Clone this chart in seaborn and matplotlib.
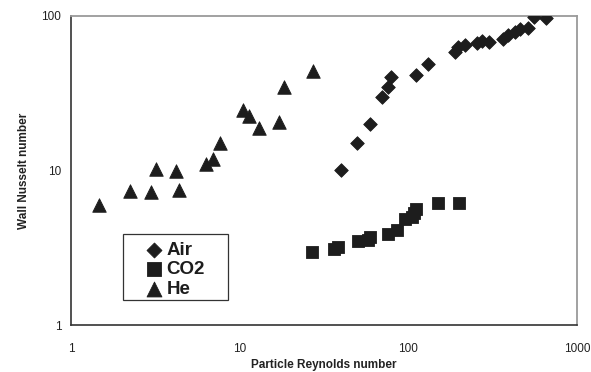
import numpy as np
import pandas as pd
import matplotlib
matplotlib.use("Agg")
import matplotlib.pyplot as plt
import seaborn as sns
from matplotlib.patches import Rectangle
from matplotlib.ticker import FixedLocator, FixedFormatter, NullLocator

# Wall Nusselt number vs particle Reynolds number for three gases
air_re = [39.7, 49.8, 59.2, 69.5, 75.4, 78.9, 110.5, 131, 189, 198, 217, 254,
          272, 302, 365, 391, 428, 459, 510, 557, 654]
air_nu = [10.1, 15.0, 19.9, 29.8, 34.5, 40.1, 41.5, 48.7, 58.8, 63.3, 64.9, 66.6,
          69.2, 68.2, 70.7, 75.3, 79.1, 82.0, 83.2, 98.0, 96.7]

co2_re = [26.7, 36.4, 38.1, 50.1, 57.4, 59.2, 75.4, 85.3, 95.5, 104.6, 108, 111,
          149, 200]
co2_nu = [2.95, 3.09, 3.18, 3.51, 3.55, 3.73, 3.88, 4.12, 4.83, 5.02, 5.33, 5.61,
          6.19, 6.13]

he_re = [1.47, 2.24, 2.98, 3.19, 4.19, 4.37, 6.29, 6.92, 7.64, 10.4, 11.3, 13.0,
         17.1, 18.4, 27.1]
he_nu = [6.0, 7.37, 7.26, 10.2, 9.9, 7.48, 10.97, 11.8, 15.0, 24.6, 22.5, 18.8,
         20.7, 34.5, 44.3]

x_ticks = [1, 10, 100, 1000]
y_ticks = [1, 10, 100]

df = pd.concat([
    pd.DataFrame({"Re": air_re, "Nu": air_nu, "Gas": "Air"}),
    pd.DataFrame({"Re": co2_re, "Nu": co2_nu, "Gas": "CO2"}),
    pd.DataFrame({"Re": he_re, "Nu": he_nu, "Gas": "He"}),
], ignore_index=True)

sns.set_theme(style="white")
plt.rcParams["font.family"] = ["Liberation Sans", "DejaVu Sans"]

fig = plt.figure(figsize=(5.91, 3.72), dpi=100)
ax = fig.add_axes([71 / 591, 47 / 372, 506 / 591, 309 / 372])

ink = "#1d1d1d"
styles = {"Air": ("D", 48), "CO2": ("s", 82), "He": ("^", 95)}
for gas, (mk, sz) in styles.items():
    sub = df[df["Gas"] == gas]
    sns.scatterplot(data=sub, x="Re", y="Nu", marker=mk, s=sz, color=ink,
                    edgecolor=ink, linewidth=0.6, label=gas, ax=ax, zorder=3)

ax.set_xscale("log")
ax.set_yscale("log")
ax.set_xlim(1, 1000)
ax.set_ylim(1, 100)

ax.xaxis.set_major_locator(FixedLocator(x_ticks))
ax.xaxis.set_major_formatter(FixedFormatter([str(v) for v in x_ticks]))
ax.yaxis.set_major_locator(FixedLocator(y_ticks))
ax.yaxis.set_major_formatter(FixedFormatter([str(v) for v in y_ticks]))
ax.xaxis.set_minor_locator(NullLocator())
ax.yaxis.set_minor_locator(NullLocator())

ax.tick_params(axis="both", which="major", direction="out", length=4, width=0.9,
               color="#333333", labelsize=8.5, labelcolor="#222222", pad=9)
ax.tick_params(axis="y", pad=3)

for side in ("left", "bottom"):
    ax.spines[side].set_color("#333333")
    ax.spines[side].set_linewidth(1.2)
for side in ("top", "right"):
    ax.spines[side].set_color("#9a9a9a")
    ax.spines[side].set_linewidth(1.3)

ax.set_xlabel("Particle Reynolds number", fontsize=8.5, fontweight="bold",
              color="#222222", labelpad=3)
ax.set_ylabel("Wall Nusselt number", fontsize=8.5, fontweight="bold",
              color="#222222", labelpad=8)

# legend box drawn as its own rectangle, entries placed inside without a frame
ax.add_patch(Rectangle((0.1028, 0.0809), 0.2075, 0.2136, transform=ax.transAxes,
                       facecolor="white", edgecolor="#333333", linewidth=0.9,
                       zorder=4))
leg = ax.legend(loc="upper left", bbox_to_anchor=(0.146, 0.270), borderaxespad=0,
                frameon=False, prop={"weight": "bold", "size": 13.5},
                handletextpad=0.15, borderpad=0, labelspacing=0.13,
                handlelength=1.0, markerscale=1.1)
leg.set_zorder(5)
for t in leg.get_texts():
    t.set_color("#1d1d1d")

fig.savefig("out.png", dpi=100, facecolor="white")
